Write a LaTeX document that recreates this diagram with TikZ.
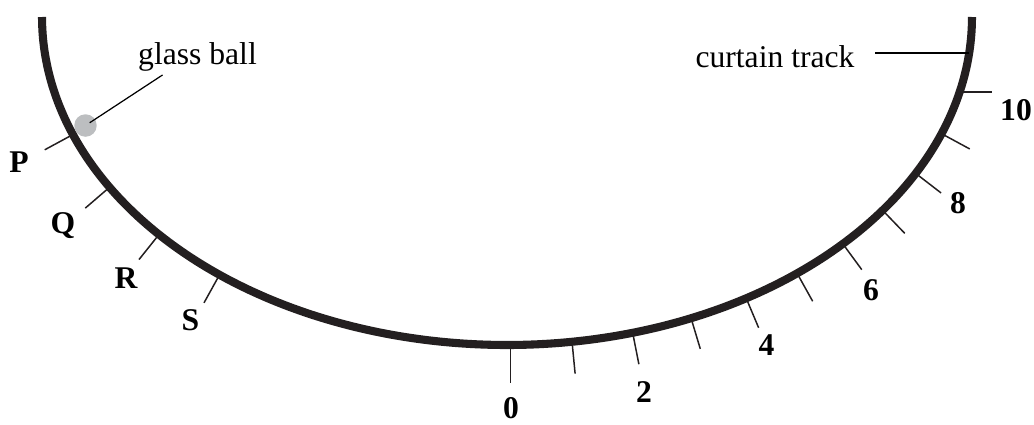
\documentclass[tikz,border=0pt]{standalone}
\usepackage{fontspec}
\setmainfont{Liberation Serif}
\usetikzlibrary{calc}
\definecolor{ctrack}{HTML}{231F20}
\definecolor{cball}{HTML}{BCBEC0}
\tikzset{
  every picture/.style={line width=0.8pt},
  track/.style={draw=ctrack, line width=4.6pt},
  tickline/.style={draw=ctrack, line width=0.85pt},
  leader/.style={draw=black, line width=0.7pt},
  lbl/.style={font=\fontsize{18}{22}\selectfont\bfseries, inner sep=0pt, anchor=base},
  note/.style={font=\fontsize{18}{22}\selectfont, inner sep=0pt, anchor=base},
  ball/.style={circle, fill=cball, minimum size=0.45cm, inner sep=0pt},
}

\begin{document}
\begin{tikzpicture}[x=0.02cm, y=-0.02cm]
  \useasboundingbox (0,0) rectangle (1034,424);
  \coordinate (c) at (507,17);
  \foreach \k in {0,...,10} {
    \pgfmathsetmacro\ang{89.6-7.64*\k}
    \pgfmathsetmacro\nrm{atan2(sin(\ang)/328, cos(\ang)/465)}
    \pgfmathsetmacro\ticklen{\k==0 ? 38 : 32}
    \coordinate (s\k) at ([shift={(\ang:465 and 328)}]c);
    \coordinate (e\k) at ([shift={(\nrm:\ticklen)}]s\k);
    \draw[tickline] (s\k) -- (e\k);
  }
  \foreach \k/\m in {0/P, 1/Q, 2/R, 3/S} {
    \pgfmathsetmacro\ang{159-10.27*\k}
    \pgfmathsetmacro\nrm{atan2(sin(\ang)/328, cos(\ang)/465)}
    \coordinate (s\m) at ([shift={(\ang:465 and 328)}]c);
    \coordinate (e\m) at ([shift={(\nrm:32)}]s\m);
    \draw[tickline] (s\m) -- (e\m);
  }
  \draw[track] plot[domain=180:0, samples=120, smooth] ({507+465*cos(\x)}, {17+328*sin(\x)});
  \node[ball] (ball) at (85.5,125.5) {};
  \foreach \m/\x/\y in {P/19/172, Q/63/233, R/126/288, S/190.5/330}
    \node[lbl] (l\m) at (\x,\y) {\m};
  \foreach \m/\x/\y in {0/511/418, 2/644/402, 4/766.5/355, 6/871/300, 8/958/213, 10/1016/120}
    \node[lbl] (n\m) at (\x,\y) {\m};
  \node[note] (glass) at (197.5,64) {glass ball};
  \node[note] (curtain) at (775,67) {curtain track};
  \draw[leader, shorten >=0.1cm] ([shift={(25,11)}]glass.base west) -- (ball.center);
  \coordinate (ctip) at ([shift={(6.3:465 and 328)}]c);
  \draw[leader, shorten >=0.4cm] (ctip) -- (ctip -| curtain.east);
\end{tikzpicture}
\end{document}
